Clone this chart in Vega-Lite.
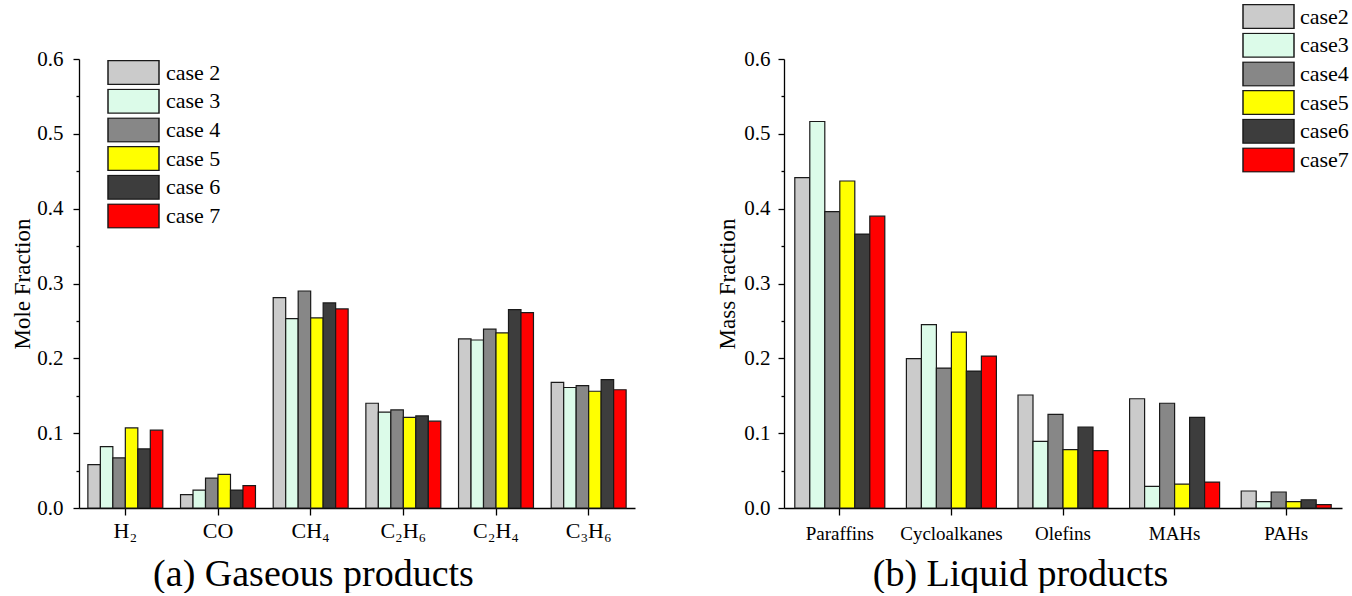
{
  "$schema": "https://vega.github.io/schema/vega-lite/v6.json",
  "padding": {"left": 11, "top": 4, "right": 0, "bottom": 0},
  "spacing": 81,
  "config": {
    "view": {"stroke": null},
    "font": "Liberation Serif",
    "axis": {
      "grid": false,
      "domainColor": "#000000",
      "domainWidth": 1.3,
      "tickColor": "#000000",
      "tickWidth": 1.3,
      "labelColor": "#000000",
      "titleColor": "#000000",
      "labelFont": "Liberation Serif",
      "titleFont": "Liberation Serif",
      "titleFontWeight": "normal"
    },
    "legend": {
      "labelColor": "#000000",
      "labelFont": "Liberation Serif"
    }
  },
  "resolve": {
    "scale": {"x": "independent", "y": "independent", "color": "independent", "xOffset": "independent"},
    "legend": {"color": "independent"},
    "axis": {"x": "independent", "y": "independent"}
  },
  "hconcat": [
    {
      "width": 556,
      "height": 449,
      "data": {
        "values": [
          {"gas": "H₂", "case": "case 2", "v": 0.058},
          {"gas": "H₂", "case": "case 3", "v": 0.082},
          {"gas": "H₂", "case": "case 4", "v": 0.067},
          {"gas": "H₂", "case": "case 5", "v": 0.107},
          {"gas": "H₂", "case": "case 6", "v": 0.079},
          {"gas": "H₂", "case": "case 7", "v": 0.104},
          {"gas": "CO", "case": "case 2", "v": 0.018},
          {"gas": "CO", "case": "case 3", "v": 0.024},
          {"gas": "CO", "case": "case 4", "v": 0.040},
          {"gas": "CO", "case": "case 5", "v": 0.045},
          {"gas": "CO", "case": "case 6", "v": 0.024},
          {"gas": "CO", "case": "case 7", "v": 0.030},
          {"gas": "CH₄", "case": "case 2", "v": 0.281},
          {"gas": "CH₄", "case": "case 3", "v": 0.253},
          {"gas": "CH₄", "case": "case 4", "v": 0.290},
          {"gas": "CH₄", "case": "case 5", "v": 0.254},
          {"gas": "CH₄", "case": "case 6", "v": 0.274},
          {"gas": "CH₄", "case": "case 7", "v": 0.266},
          {"gas": "C₂H₆", "case": "case 2", "v": 0.140},
          {"gas": "C₂H₆", "case": "case 3", "v": 0.128},
          {"gas": "C₂H₆", "case": "case 4", "v": 0.131},
          {"gas": "C₂H₆", "case": "case 5", "v": 0.121},
          {"gas": "C₂H₆", "case": "case 6", "v": 0.123},
          {"gas": "C₂H₆", "case": "case 7", "v": 0.116},
          {"gas": "C₂H₄", "case": "case 2", "v": 0.226},
          {"gas": "C₂H₄", "case": "case 3", "v": 0.2245},
          {"gas": "C₂H₄", "case": "case 4", "v": 0.239},
          {"gas": "C₂H₄", "case": "case 5", "v": 0.234},
          {"gas": "C₂H₄", "case": "case 6", "v": 0.265},
          {"gas": "C₂H₄", "case": "case 7", "v": 0.261},
          {"gas": "C₃H₆", "case": "case 2", "v": 0.168},
          {"gas": "C₃H₆", "case": "case 3", "v": 0.161},
          {"gas": "C₃H₆", "case": "case 4", "v": 0.1635},
          {"gas": "C₃H₆", "case": "case 5", "v": 0.156},
          {"gas": "C₃H₆", "case": "case 6", "v": 0.1715},
          {"gas": "C₃H₆", "case": "case 7", "v": 0.158}
        ]
      },
      "mark": {"type": "bar", "stroke": "#1a1a1a", "strokeWidth": 1.2},
      "encoding": {
        "x": {
          "field": "gas", "type": "nominal", "sort": null,
          "scale": {"paddingInner": 0, "paddingOuter": 0},
          "axis": {
            "labelAngle": 0, "labelFont": "Liberation Serif", "labelFontSize": 22, "labelPadding": 5, "tickSize": 7,
            "title": "(a) Gaseous products", "titleFont": "Liberation Serif", "titleFontSize": 38,
            "titleX": 234, "titleY": 77, "titleAlign": "center", "titleBaseline": "alphabetic"
          }
        },
        "xOffset": {
          "field": "case", "type": "nominal", "sort": null,
          "scale": {"paddingInner": 0, "paddingOuter": 0.71}
        },
        "y": {
          "field": "v", "type": "quantitative",
          "scale": {"domain": [0, 0.6], "nice": false},
          "axis": {
            "title": "Mole Fraction", "titleFont": "Liberation Serif", "titleFontSize": 23, "titlePadding": 2,
            "labelFont": "Liberation Serif", "labelFontSize": 21, "labelPadding": 10,
            "values": [0, 0.05, 0.1, 0.15, 0.2, 0.25, 0.3, 0.35, 0.4, 0.45, 0.5, 0.55, 0.6],
            "labelExpr": "round(datum.value * 20) % 2 == 1 ? '' : format(datum.value, '.1f')",
            "tickSize": {"condition": {"test": "round(datum.value * 20) % 2 == 1", "value": 3}, "value": 6}
          }
        },
        "color": {
          "field": "case", "type": "nominal", "sort": null,
          "scale": {
            "domain": ["case 2", "case 3", "case 4", "case 5", "case 6", "case 7"],
            "range": ["#cbcbcb", "#dcfbe9", "#878787", "#ffff00", "#3d3d3d", "#ff0000"]
          },
          "legend": {
            "orient": "none", "direction": "vertical", "legendX": 28, "legendY": 1,
            "title": null, "padding": 0,
            "symbolType": "M-1,-0.47H1V0.47H-1Z", "symbolSize": 2601,
            "symbolStrokeColor": "#1a1a1a", "symbolStrokeWidth": 1.5, "symbolOpacity": 1,
            "clipHeight": 25, "rowPadding": 3.7,
            "labelFont": "Liberation Serif", "labelFontSize": 22, "labelOffset": 6
          }
        }
      }
    },
    {
      "width": 558,
      "height": 449,
      "data": {
        "values": [
          {"group": "Paraffins", "case": "case2", "v": 0.4415},
          {"group": "Paraffins", "case": "case3", "v": 0.5165},
          {"group": "Paraffins", "case": "case4", "v": 0.396},
          {"group": "Paraffins", "case": "case5", "v": 0.437},
          {"group": "Paraffins", "case": "case6", "v": 0.366},
          {"group": "Paraffins", "case": "case7", "v": 0.390},
          {"group": "Cycloalkanes", "case": "case2", "v": 0.1995},
          {"group": "Cycloalkanes", "case": "case3", "v": 0.245},
          {"group": "Cycloalkanes", "case": "case4", "v": 0.187},
          {"group": "Cycloalkanes", "case": "case5", "v": 0.235},
          {"group": "Cycloalkanes", "case": "case6", "v": 0.183},
          {"group": "Cycloalkanes", "case": "case7", "v": 0.203},
          {"group": "Olefins", "case": "case2", "v": 0.151},
          {"group": "Olefins", "case": "case3", "v": 0.089},
          {"group": "Olefins", "case": "case4", "v": 0.125},
          {"group": "Olefins", "case": "case5", "v": 0.078},
          {"group": "Olefins", "case": "case6", "v": 0.108},
          {"group": "Olefins", "case": "case7", "v": 0.0766},
          {"group": "MAHs", "case": "case2", "v": 0.146},
          {"group": "MAHs", "case": "case3", "v": 0.029},
          {"group": "MAHs", "case": "case4", "v": 0.140},
          {"group": "MAHs", "case": "case5", "v": 0.032},
          {"group": "MAHs", "case": "case6", "v": 0.121},
          {"group": "MAHs", "case": "case7", "v": 0.0347},
          {"group": "PAHs", "case": "case2", "v": 0.0227},
          {"group": "PAHs", "case": "case3", "v": 0.0085},
          {"group": "PAHs", "case": "case4", "v": 0.0214},
          {"group": "PAHs", "case": "case5", "v": 0.0085},
          {"group": "PAHs", "case": "case6", "v": 0.011},
          {"group": "PAHs", "case": "case7", "v": 0.0045}
        ]
      },
      "mark": {"type": "bar", "stroke": "#1a1a1a", "strokeWidth": 1.2},
      "encoding": {
        "x": {
          "field": "group", "type": "nominal", "sort": null,
          "scale": {"paddingInner": 0, "paddingOuter": 0},
          "axis": {
            "labelAngle": 0, "labelFont": "Liberation Serif", "labelFontSize": 19, "labelPadding": 9, "tickSize": 7,
            "title": "(b) Liquid products", "titleFont": "Liberation Serif", "titleFontSize": 38,
            "titleX": 236, "titleY": 77, "titleAlign": "center", "titleBaseline": "alphabetic"
          }
        },
        "xOffset": {
          "field": "case", "type": "nominal", "sort": null,
          "scale": {"paddingInner": 0, "paddingOuter": 0.72}
        },
        "y": {
          "field": "v", "type": "quantitative",
          "scale": {"domain": [0, 0.6], "nice": false},
          "axis": {
            "title": "Mass Fraction", "titleFont": "Liberation Serif", "titleFontSize": 23, "titlePadding": 4,
            "labelFont": "Liberation Serif", "labelFontSize": 21, "labelPadding": 8,
            "values": [0, 0.05, 0.1, 0.15, 0.2, 0.25, 0.3, 0.35, 0.4, 0.45, 0.5, 0.55, 0.6],
            "labelExpr": "round(datum.value * 20) % 2 == 1 ? '' : format(datum.value, '.1f')",
            "tickSize": {"condition": {"test": "round(datum.value * 20) % 2 == 1", "value": 3}, "value": 6}
          }
        },
        "color": {
          "field": "case", "type": "nominal", "sort": null,
          "scale": {
            "domain": ["case2", "case3", "case4", "case5", "case6", "case7"],
            "range": ["#cbcbcb", "#dcfbe9", "#878787", "#ffff00", "#3d3d3d", "#ff0000"]
          },
          "legend": {
            "orient": "none", "direction": "vertical", "legendX": 458, "legendY": -55,
            "title": null, "padding": 0,
            "symbolType": "M-1,-0.47H1V0.47H-1Z", "symbolSize": 2601,
            "symbolStrokeColor": "#1a1a1a", "symbolStrokeWidth": 1.5, "symbolOpacity": 1,
            "clipHeight": 25, "rowPadding": 3.7,
            "labelFont": "Liberation Serif", "labelFontSize": 22, "labelOffset": 5
          }
        }
      }
    }
  ]
}
